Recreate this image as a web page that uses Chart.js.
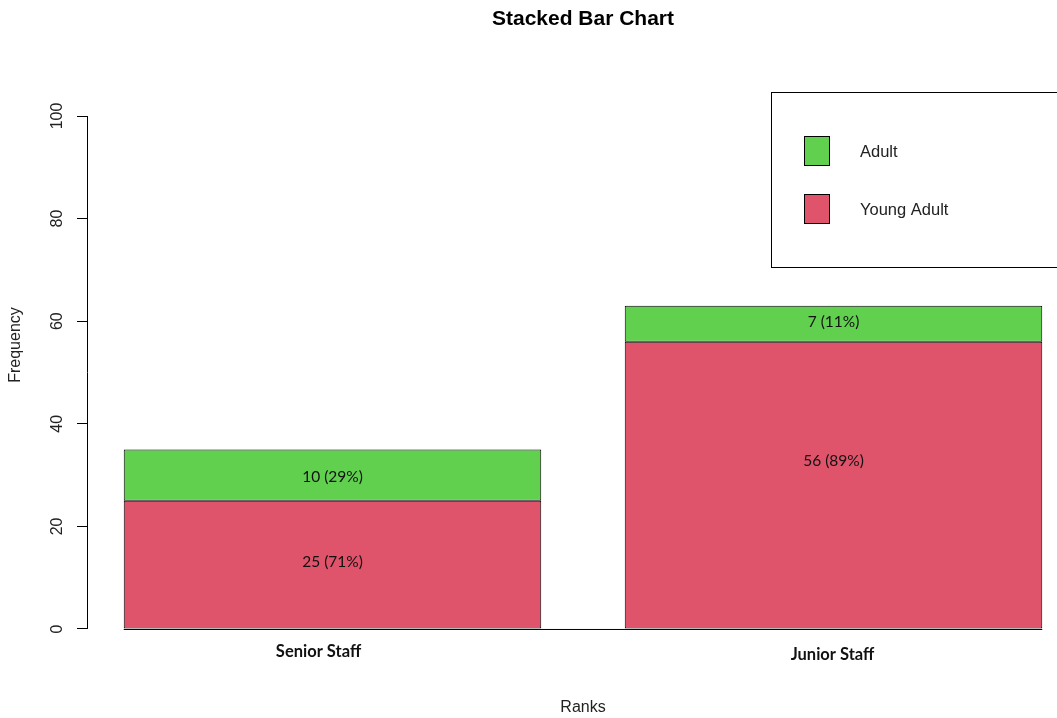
<!DOCTYPE html>
<html>
<head>
<meta charset="utf-8">
<script src="https://cdn.jsdelivr.net/npm/chart.js@4.4.1/dist/chart.umd.min.js"></script>
<style>
  html, body { margin: 0; padding: 0; background: #fff; overflow: hidden; }
  #wrap { position: relative; width: 1100px; height: 718px; }
</style>
</head>
<body>
<div id="wrap"><canvas id="chart-ranks"></canvas></div>
<script>
// Stacked bar chart (R barplot look)
// -----------------------------------

var ranks = ['Senior Staff', 'Junior Staff'];
var youngAdult = [25, 56];
var adult = [10, 7];
var yTicks = [0, 20, 40, 60, 80, 100];
// where the segment labels sit, in frequency units
var youngLabelAt = [13, 32.7];
var adultLabelAt = [29.7, 59.8];

var red = '#DF536B';
var green = '#61D04F';
var rFont = '"Liberation Sans", Arial, sans-serif';
var calFont = 'Lato, "Open Sans", sans-serif';

var rLook = {
    id: 'rLook',
    afterDatasetsDraw: function(chart) {
        var ctx = chart.ctx;
        var area = chart.chartArea;
        var y = chart.scales.y;
        var young = chart.getDatasetMeta(0).data;
        var old = chart.getDatasetMeta(1).data;

        ctx.save();
        ctx.strokeStyle = '#000';
        ctx.lineWidth = 1;

        // y axis line, 0..100 only
        ctx.beginPath();
        ctx.moveTo(area.left + 0.5, y.getPixelForValue(0));
        ctx.lineTo(area.left + 0.5, y.getPixelForValue(100));
        ctx.stroke();

        // baseline under bars
        var first = young[0], last = young[young.length - 1];
        ctx.beginPath();
        ctx.moveTo(first.x - first.width / 2, y.getPixelForValue(0) + 0.5);
        ctx.lineTo(last.x + last.width / 2, y.getPixelForValue(0) + 0.5);
        ctx.stroke();

        // y tick labels, rotated
        ctx.fillStyle = '#222';
        ctx.font = '16px ' + rFont;
        ctx.textAlign = 'center';
        ctx.textBaseline = 'middle';
        yTicks.forEach(function(v) {
            ctx.save();
            ctx.translate(58, y.getPixelForValue(v));
            ctx.rotate(-Math.PI / 2);
            ctx.fillText(String(v), 0, 0);
            ctx.restore();
        });

        // segment labels
        ctx.fillStyle = '#111';
        ctx.font = '15.5px ' + calFont;
        ranks.forEach(function(r, i) {
            var total = youngAdult[i] + adult[i];
            var pY = Math.round(youngAdult[i] / total * 100);
            var pA = Math.round(adult[i] / total * 100);
            ctx.fillText(youngAdult[i] + ' (' + pY + '%)', young[i].x, y.getPixelForValue(youngLabelAt[i]));
            ctx.fillText(adult[i] + ' (' + pA + '%)', old[i].x, y.getPixelForValue(adultLabelAt[i]));
        });

        // category labels
        var nudge = [[-14, 0], [-1, 3]];
        ctx.font = 'bold 16.5px ' + calFont;
        ranks.forEach(function(r, i) {
            ctx.fillText(r, young[i].x + nudge[i][0], area.bottom + 2 + nudge[i][1]);
        });

        // titles
        var cx = (area.left + area.right) / 2;
        ctx.fillStyle = '#000';
        ctx.font = 'bold 21px ' + rFont;
        ctx.fillText('Stacked Bar Chart', cx, 19);
        ctx.fillStyle = '#222';
        ctx.font = '16px ' + rFont;
        ctx.fillText('Ranks', cx, 708);
        ctx.save();
        ctx.translate(16, 345);
        ctx.rotate(-Math.PI / 2);
        ctx.fillText('Frequency', 0, 0);
        ctx.restore();

        // legend box
        ctx.strokeStyle = '#000';
        ctx.strokeRect(771.5, 92.5, 320, 175);
        var items = [[green, 'Adult', 136], [red, 'Young Adult', 194]];
        ctx.textAlign = 'left';
        ctx.font = '16.5px ' + rFont;
        items.forEach(function(it) {
            ctx.fillStyle = it[0];
            ctx.fillRect(804.5, it[2] + 0.5, 25, 29);
            ctx.strokeRect(804.5, it[2] + 0.5, 25, 29);
            ctx.fillStyle = '#222';
            ctx.fillText(it[1], 860, it[2] + 16);
        });
        ctx.restore();
    }
};

var barData = {
    labels: ranks,
    datasets: [{
        label: 'Young Adult',
        data: youngAdult.map(function(v, i) { return { x: i, y: v }; }),
        backgroundColor: red,
        borderColor: '#000',
        borderWidth: 1,
        borderSkipped: false,
        categoryPercentage: 1,
        barPercentage: 1 / 1.2
    }, {
        label: 'Adult',
        data: adult.map(function(v, i) { return { x: i, y: v }; }),
        backgroundColor: green,
        borderColor: '#000',
        borderWidth: 1,
        borderSkipped: false,
        categoryPercentage: 1,
        barPercentage: 1 / 1.2
    }]
};

var barOptions = {
    responsive: true,
    maintainAspectRatio: false,
    animation: false,
    layout: { padding: { left: 0, right: 21, top: 95.5, bottom: 0 } },
    plugins: {
        legend: { display: false },
        title: { display: false },
        tooltip: { enabled: false }
    },
    scales: {
        x: {
            type: 'linear',
            stacked: true,
            offset: false,
            min: -0.49,
            max: 1.49,
            afterBuildTicks: function(s) { s.ticks = ranks.map(function(r, i) { return { value: i }; }); },
            afterFit: function(s) { s.height = 68.5; },
            ticks: { display: false },
            grid: { display: false, offset: false },
            border: { display: false }
        },
        y: {
            stacked: true,
            min: -4,
            max: 104,
            afterBuildTicks: function(s) { s.ticks = yTicks.map(function(v) { return { value: v }; }); },
            afterFit: function(s) { s.width = 87; },
            ticks: { display: false },
            grid: { drawOnChartArea: false, drawTicks: true, tickLength: 10, color: '#000', lineWidth: 1 },
            border: { display: false }
        }
    }
};

var ctx = document.getElementById('chart-ranks').getContext('2d');
var chart = new Chart(ctx, {
    type: 'bar',
    data: barData,
    options: barOptions,
    plugins: [rLook]
});
</script>
</body>
</html>
